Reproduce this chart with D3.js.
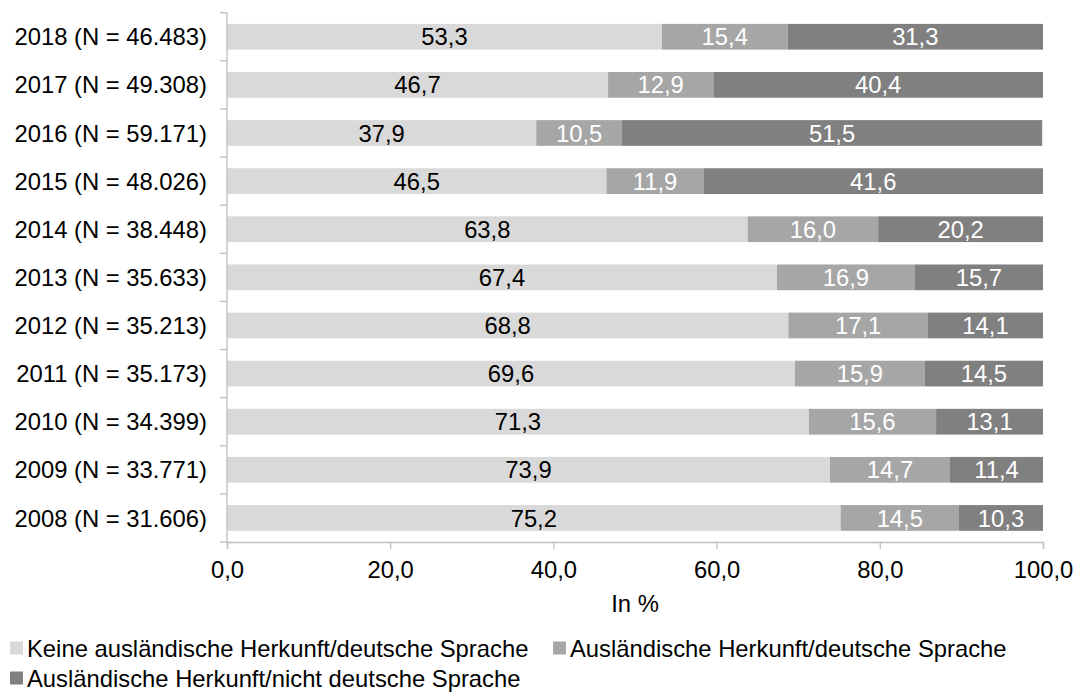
<!DOCTYPE html>
<html>
<head>
<meta charset="utf-8">
<script src="https://cdn.jsdelivr.net/npm/d3@7"></script>
<style>
  body { margin: 0; background: #fff; }
  text { font-family: "Liberation Sans", Arial, sans-serif; }
</style>
</head>
<body>
<div id="chart"></div>
<script>
'use strict';

// data, top bar first
const years     = ['2018', '2017', '2016', '2015', '2014', '2013', '2012', '2011', '2010', '2009', '2008']
const nCounts   = ['46.483', '49.308', '59.171', '48.026', '38.448', '35.633', '35.213', '35.173', '34.399', '33.771', '31.606']
const keineDe   = [53.3, 46.7, 37.9, 46.5, 63.8, 67.4, 68.8, 69.6, 71.3, 73.9, 75.2]
const auslDe    = [15.4, 12.9, 10.5, 11.9, 16.0, 16.9, 17.1, 15.9, 15.6, 14.7, 14.5]
const auslNicht = [31.3, 40.4, 51.5, 41.6, 20.2, 15.7, 14.1, 14.5, 13.1, 11.4, 10.3]
const seriesNames = [
    'Keine ausländische Herkunft/deutsche Sprache',
    'Ausländische Herkunft/deutsche Sprache',
    'Ausländische Herkunft/nicht deutsche Sprache'
]
const xTicks = [0, 20, 40, 60, 80, 100]

const width  = 1074
const height = 693
const fs     = 23.8
const colors = ['#d9d9d9', '#a6a6a6', '#808080']
const textColors = ['#000', '#fff', '#fff']
const axisColor = '#bfbfbf'

const plotL = 227, plotR = 1043, plotT = 12.7, plotB = 542

var svg = d3.select('#chart').append('svg')
    .attr('width', width)
    .attr('height', height)

var labels = years.map(function(y, i){ return y + ' (N = ' + nCounts[i] + ')' })

var x = d3.scaleLinear().domain([0, 100]).range([plotL, plotR])
var y = d3.scaleBand().domain(labels).range([plotT, plotB]).paddingInner(0.465).paddingOuter(0.2325)
var yOuter = d3.scaleBand().domain(labels).range([plotT, plotB])

// stack rows
var rows = labels.map(function(l, i){ return {label: l, v: [keineDe[i], auslDe[i], auslNicht[i]]} })
var segs = []
rows.forEach(function(r){
    var acc = 0
    r.v.forEach(function(v, k){
        segs.push({label: r.label, k: k, x0: acc, x1: acc + v, v: v})
        acc += v
    })
})

svg.append('g').selectAll('rect').data(segs).enter().append('rect')
    .attr('x', function(d){ return x(d.x0) })
    .attr('y', function(d){ return y(d.label) })
    .attr('width', function(d){ return x(d.x1) - x(d.x0) })
    .attr('height', y.bandwidth())
    .attr('fill', function(d){ return colors[d.k] })

svg.append('g').selectAll('text').data(segs).enter().append('text')
    .attr('x', function(d){ return (x(d.x0) + x(d.x1)) / 2 })
    .attr('y', function(d){ return y(d.label) + y.bandwidth() / 2 })
    .attr('dy', '0.36em')
    .attr('text-anchor', 'middle')
    .attr('font-size', fs)
    .attr('fill', function(d){ return textColors[d.k] })
    .text(function(d){ return d.v.toFixed(1).replace('.', ',') })

// y axis with ticks at band edges
var ya = svg.append('g')
ya.append('line')
    .attr('x1', plotL).attr('x2', plotL).attr('y1', plotT).attr('y2', plotB)
    .attr('stroke', axisColor).attr('stroke-width', 1.3)
ya.selectAll('line.t').data(labels.concat(['end'])).enter().append('line')
    .attr('x1', plotL - 7).attr('x2', plotL)
    .attr('y1', function(d, i){ return plotT + i * yOuter.step() })
    .attr('y2', function(d, i){ return plotT + i * yOuter.step() })
    .attr('stroke', axisColor).attr('stroke-width', 1.3)
ya.selectAll('text').data(labels).enter().append('text')
    .attr('x', plotL - 20)
    .attr('y', function(d){ return y(d) + y.bandwidth() / 2 })
    .attr('dy', '0.36em')
    .attr('text-anchor', 'end')
    .attr('font-size', fs)
    .attr('fill', '#000')
    .text(function(d){ return d })

// x axis
var xa = svg.append('g').attr('transform', 'translate(0,' + plotB + ')')
    .call(d3.axisBottom(x).tickValues(xTicks).tickSize(7).tickPadding(12)
        .tickFormat(function(d){ return d.toFixed(1).replace('.', ',') }))
xa.select('.domain').attr('stroke', axisColor).attr('stroke-width', 1.3)
xa.selectAll('.tick line').attr('stroke', axisColor).attr('stroke-width', 1.3)
xa.selectAll('.tick text').attr('font-size', fs).attr('font-family', '"Liberation Sans", Arial, sans-serif').attr('fill', '#000')

svg.append('text')
    .attr('x', (plotL + plotR) / 2)
    .attr('y', 612)
    .attr('text-anchor', 'middle')
    .attr('font-size', fs)
    .text('In %')

// legend
var legendPos = [[10, 648], [553, 648], [10, 678]]
var lg = svg.append('g').selectAll('g').data(seriesNames).enter().append('g')
    .attr('transform', function(d, i){ return 'translate(' + legendPos[i][0] + ',' + legendPos[i][1] + ')' })
lg.append('rect')
    .attr('x', 0).attr('y', -6.5).attr('width', 13).attr('height', 13)
    .attr('fill', function(d, i){ return colors[i] })
lg.append('text')
    .attr('x', 17).attr('y', 0).attr('dy', '0.36em')
    .attr('font-size', fs)
    .text(function(d){ return d })
</script>
</body>
</html>
